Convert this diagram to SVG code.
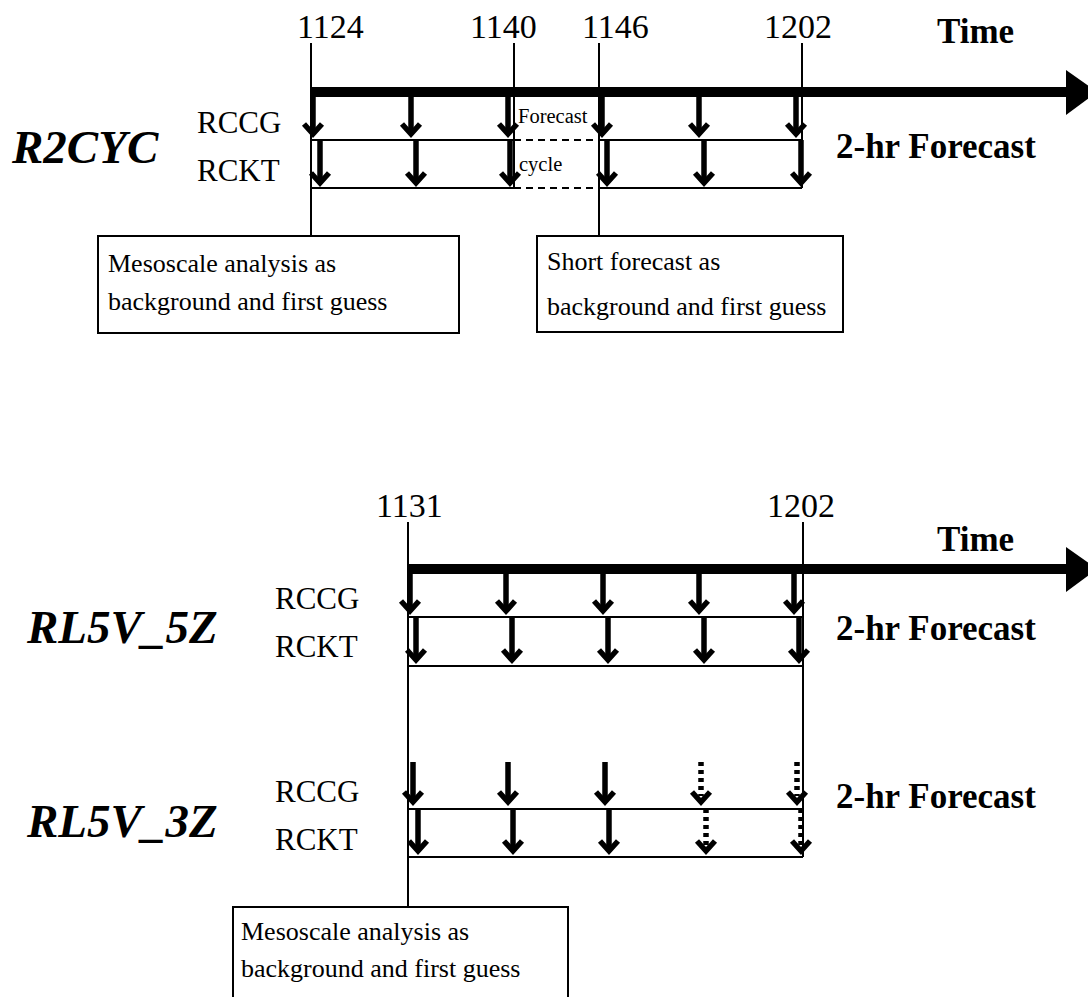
<svg xmlns="http://www.w3.org/2000/svg" width="1088" height="997" viewBox="0 0 1088 997">
<style>
.num{font-family:"Liberation Serif",serif;font-size:34px;fill:#000}
.row{font-family:"Liberation Serif",serif;font-size:31px;fill:#000}
.bold{font-family:"Liberation Serif",serif;font-size:35px;font-weight:bold;fill:#000}
.title{font-family:"Liberation Serif",serif;font-size:47px;font-weight:bold;font-style:italic;fill:#000}
.box{font-family:"Liberation Serif",serif;font-size:26px;fill:#000}
.small{font-family:"Liberation Serif",serif;font-size:20.5px;fill:#000}
.thin{stroke:#000;stroke-width:2;fill:none}
.dash{stroke:#000;stroke-width:2;fill:none;stroke-dasharray:7 5}
.bar{stroke:#000;stroke-width:10;fill:none}
.arr{stroke:#000;stroke-width:5.5;fill:none;stroke-linejoin:miter;stroke-miterlimit:10}
.dot{stroke:#000;stroke-width:5.5;fill:none;stroke-dasharray:4 4}
.rect{stroke:#000;stroke-width:2;fill:#fff}
</style>
<defs>
<path id="ah" d="M-9,-14 L0,-4 L9,-14" class="arr"/>
</defs>

<g id="connectors">
<!-- R2CYC section -->
<line class="bar" x1="310" y1="92" x2="1067" y2="92"/>
<polygon points="1066,70 1097,92 1066,115" fill="#000"/>
<line class="thin" x1="311" y1="43" x2="311" y2="236"/>
<line class="thin" x1="514" y1="43" x2="514" y2="188"/>
<line class="thin" x1="599" y1="43" x2="599" y2="236"/>
<line class="thin" x1="802" y1="43" x2="802" y2="188"/>
<line class="thin" x1="311" y1="140" x2="514" y2="140"/>
<line class="thin" x1="311" y1="188" x2="514" y2="188"/>
<line class="dash" x1="514" y1="140" x2="599" y2="140"/>
<line class="dash" x1="514" y1="188" x2="599" y2="188"/>
<line class="thin" x1="599" y1="140" x2="802" y2="140"/>
<line class="thin" x1="599" y1="188" x2="802" y2="188"/>
<!-- RCCG arrows -->
<g>
<line class="arr" x1="313" y1="92" x2="313" y2="134"/><use href="#ah" x="313" y="138"/>
<line class="arr" x1="411" y1="92" x2="411" y2="134"/><use href="#ah" x="411" y="138"/>
<line class="arr" x1="508" y1="92" x2="508" y2="134"/><use href="#ah" x="508" y="138"/>
<line class="arr" x1="602" y1="92" x2="602" y2="134"/><use href="#ah" x="602" y="138"/>
<line class="arr" x1="699" y1="92" x2="699" y2="134"/><use href="#ah" x="699" y="138"/>
<line class="arr" x1="796" y1="92" x2="796" y2="134"/><use href="#ah" x="796" y="138"/>
</g>
<!-- RCKT arrows -->
<g>
<line class="arr" x1="320" y1="140" x2="320" y2="183"/><use href="#ah" x="320" y="187"/>
<line class="arr" x1="416" y1="140" x2="416" y2="183"/><use href="#ah" x="416" y="187"/>
<line class="arr" x1="510" y1="140" x2="510" y2="183"/><use href="#ah" x="510" y="187"/>
<line class="arr" x1="607" y1="140" x2="607" y2="183"/><use href="#ah" x="607" y="187"/>
<line class="arr" x1="704" y1="140" x2="704" y2="183"/><use href="#ah" x="704" y="187"/>
<line class="arr" x1="801" y1="140" x2="801" y2="183"/><use href="#ah" x="801" y="187"/>
</g>

<!-- RL5V section -->
<line class="bar" x1="407" y1="569" x2="1067" y2="569"/>
<polygon points="1066,547 1097,569 1066,592" fill="#000"/>
<line class="thin" x1="408" y1="522" x2="408" y2="907"/>
<line class="thin" x1="803" y1="522" x2="803" y2="857"/>
<line class="thin" x1="408" y1="617" x2="803" y2="617"/>
<line class="thin" x1="408" y1="666" x2="803" y2="666"/>
<line class="thin" x1="408" y1="809" x2="803" y2="809"/>
<line class="thin" x1="408" y1="857" x2="803" y2="857"/>
<!-- 5Z RCCG -->
<g>
<line class="arr" x1="410" y1="569" x2="410" y2="611"/><use href="#ah" x="410" y="615"/>
<line class="arr" x1="506" y1="569" x2="506" y2="611"/><use href="#ah" x="506" y="615"/>
<line class="arr" x1="603" y1="569" x2="603" y2="611"/><use href="#ah" x="603" y="615"/>
<line class="arr" x1="699" y1="569" x2="699" y2="611"/><use href="#ah" x="699" y="615"/>
<line class="arr" x1="794" y1="569" x2="794" y2="611"/><use href="#ah" x="794" y="615"/>
</g>
<!-- 5Z RCKT -->
<g>
<line class="arr" x1="416" y1="617" x2="416" y2="660"/><use href="#ah" x="416" y="664"/>
<line class="arr" x1="512" y1="617" x2="512" y2="660"/><use href="#ah" x="512" y="664"/>
<line class="arr" x1="608" y1="617" x2="608" y2="660"/><use href="#ah" x="608" y="664"/>
<line class="arr" x1="704" y1="617" x2="704" y2="660"/><use href="#ah" x="704" y="664"/>
<line class="arr" x1="799" y1="617" x2="799" y2="660"/><use href="#ah" x="799" y="664"/>
</g>
<!-- 3Z RCCG -->
<g>
<line class="arr" x1="413" y1="762" x2="413" y2="802"/><use href="#ah" x="413" y="806"/>
<line class="arr" x1="508" y1="762" x2="508" y2="802"/><use href="#ah" x="508" y="806"/>
<line class="arr" x1="605" y1="762" x2="605" y2="802"/><use href="#ah" x="605" y="806"/>
<line class="dot" x1="701" y1="762" x2="701" y2="796"/><use href="#ah" x="701" y="806"/>
<line class="dot" x1="797" y1="762" x2="797" y2="796"/><use href="#ah" x="797" y="806"/>
</g>
<!-- 3Z RCKT -->
<g>
<line class="arr" x1="418" y1="809" x2="418" y2="851"/><use href="#ah" x="418" y="855"/>
<line class="arr" x1="513" y1="809" x2="513" y2="851"/><use href="#ah" x="513" y="855"/>
<line class="arr" x1="609" y1="809" x2="609" y2="851"/><use href="#ah" x="609" y="855"/>
<line class="dot" x1="706" y1="809" x2="706" y2="845"/><use href="#ah" x="706" y="855"/>
<line class="dot" x1="801" y1="809" x2="801" y2="845"/><use href="#ah" x="801" y="855"/>
</g>
</g>

<g id="labels-top">
<text class="num" x="297" y="38">1124</text>
<text class="num" x="470" y="38">1140</text>
<text class="num" x="582" y="38">1146</text>
<text class="num" x="764" y="38">1202</text>
<text class="bold" x="937" y="43">Time</text>
<text class="bold" x="836" y="158">2-hr Forecast</text>
<text class="title" x="12" y="163">R2CYC</text>
<text class="row" x="197" y="133">RCCG</text>
<text class="row" x="197" y="181">RCKT</text>
<text class="small" x="518" y="123">Forecast</text>
<text class="small" x="519" y="171">cycle</text>
</g>

<g id="box-mesoscale-top">
<rect class="rect" x="98" y="236" width="361" height="97"/>
<text class="box" x="108" y="272">Mesoscale analysis as</text>
<text class="box" x="108" y="310">background and first guess</text>
</g>

<g id="box-short">
<rect class="rect" x="537" y="236" width="306" height="96"/>
<text class="box" x="547" y="270">Short forecast as</text>
<text class="box" x="547" y="315">background and first guess</text>
</g>

<g id="labels-bottom">
<text class="num" x="376" y="517">1131</text>
<text class="num" x="767" y="517">1202</text>
<text class="bold" x="937" y="551">Time</text>
<text class="bold" x="836" y="640">2-hr Forecast</text>
<text class="bold" x="836" y="808">2-hr Forecast</text>
<text class="title" x="27" y="643">RL5V_5Z</text>
<text class="title" x="27" y="837">RL5V_3Z</text>
<text class="row" x="275" y="609">RCCG</text>
<text class="row" x="275" y="657">RCKT</text>
<text class="row" x="275" y="802">RCCG</text>
<text class="row" x="275" y="850">RCKT</text>
</g>

<g id="box-mesoscale-bottom">
<rect class="rect" x="233" y="907" width="335" height="110"/>
<text class="box" x="241" y="940">Mesoscale analysis as</text>
<text class="box" x="241" y="977">background and first guess</text>
</g>
</svg>
